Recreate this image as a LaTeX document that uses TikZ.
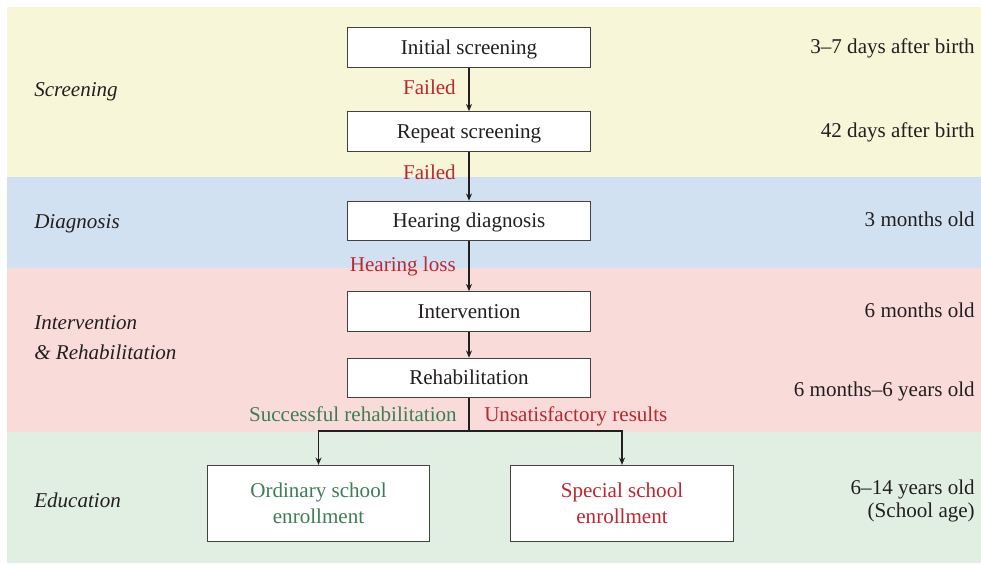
\documentclass[tikz,border=0pt]{standalone}
\usepackage{fontspec}
\setmainfont{Liberation Serif}
\usetikzlibrary{arrows.meta}
\definecolor{bandY}{RGB}{247,246,217}
\definecolor{bandB}{RGB}{210,225,242}
\definecolor{bandP}{RGB}{249,220,217}
\definecolor{bandG}{RGB}{225,239,227}
\definecolor{redT}{RGB}{190,38,48}
\definecolor{greenT}{RGB}{62,126,85}
\definecolor{inkT}{RGB}{35,31,32}
\begin{document}
\begin{tikzpicture}[x=0.75pt,y=-0.75pt,
  font=\fontsize{15.8}{19.5}\selectfont, text=inkT,
  box/.style={draw=inkT!85, line width=0.9pt, fill=white, minimum width=182pt,
    minimum height=29.5pt, inner sep=0pt, text height=10.4pt, text depth=0pt},
  sbox/.style={box, minimum width=167pt, minimum height=57pt, align=center,
    text height=29.9pt, text depth=0pt},
  flow/.style={draw=inkT, line width=0.8pt, -{Stealth[length=5.5pt,width=4.5pt]}},
  link/.style={draw=inkT, line width=0.8pt},
  phase/.style={anchor=base west, font=\fontsize{15.8}{19.5}\selectfont\itshape},
  age/.style={anchor=base east, inner sep=0pt},
  cond/.style={anchor=base east, inner sep=0pt, text=redT},
  condg/.style={anchor=base east, inner sep=0pt, text=greenT}]
\useasboundingbox (0,0) rectangle (981,564);
% bands
\fill[bandY] (7,7) rectangle (981,177);
\fill[bandB] (7,177) rectangle (981,268);
\fill[bandP] (7,268) rectangle (981,432);
\fill[bandG] (7,432) rectangle (981,563);
% boxes
\node[box] (init) at (469,47.5) {Initial screening};
\node[box] (rep) at (469,131.5) {Repeat screening};
\node[box] (diag) at (469,221) {Hearing diagnosis};
\node[box] (int) at (469,311.5) {Intervention};
\node[box] (reh) at (469,378) {Rehabilitation};
\node[sbox, text=greenT] (ord) at (318.5,503.5) {Ordinary school\\enrollment};
\node[sbox, text=redT] (spec) at (622,503.5) {Special school\\enrollment};
% connectors
\draw[flow] (init) -- (rep);
\draw[flow] (rep) -- (diag);
\draw[flow] (diag) -- (int);
\draw[flow] (int) -- (reh);
\coordinate (br) at (469,431);
\draw[link] (reh.south) -- (br);
\draw[flow] (br) -| (ord.north);
\draw[flow] (br) -| (spec.north);
% conditions
\node[cond] (c1) at (456,94) {Failed};
\node[cond] (c2) at (456,179) {Failed};
\node[cond] (c3) at (456,271) {Hearing loss};
\node[condg] (c4) at (457,421) {Successful rehabilitation};
\node[anchor=base west, inner sep=0pt, text=redT] (c5) at (484,421) {Unsatisfactory results};
% phases
\node[phase, inner sep=0pt] (p1) at (34,96) {Screening};
\node[phase, inner sep=0pt] (p2) at (34,228) {Diagnosis};
\node[phase, inner sep=0pt] (p3) at (34,329) {Intervention};
\node[phase, inner sep=0pt] (p4) at (34,359) {\& Rehabilitation};
\node[phase, inner sep=0pt] (p5) at (34,507) {Education};
% ages
\node[age] (a1) at (975,53) {3–7 days after birth};
\node[age] (a2) at (975,137) {42 days after birth};
\node[age] (a3) at (975,226.5) {3 months old};
\node[age] (a4) at (975,317.5) {6 months old};
\node[age] (a5) at (975,396.5) {6 months–6 years old};
\node[age] (a6) at (975,494.5) {6–14 years old};
\node[age] (a7) at (975,517) {(School age)};
\end{tikzpicture}
\end{document}
